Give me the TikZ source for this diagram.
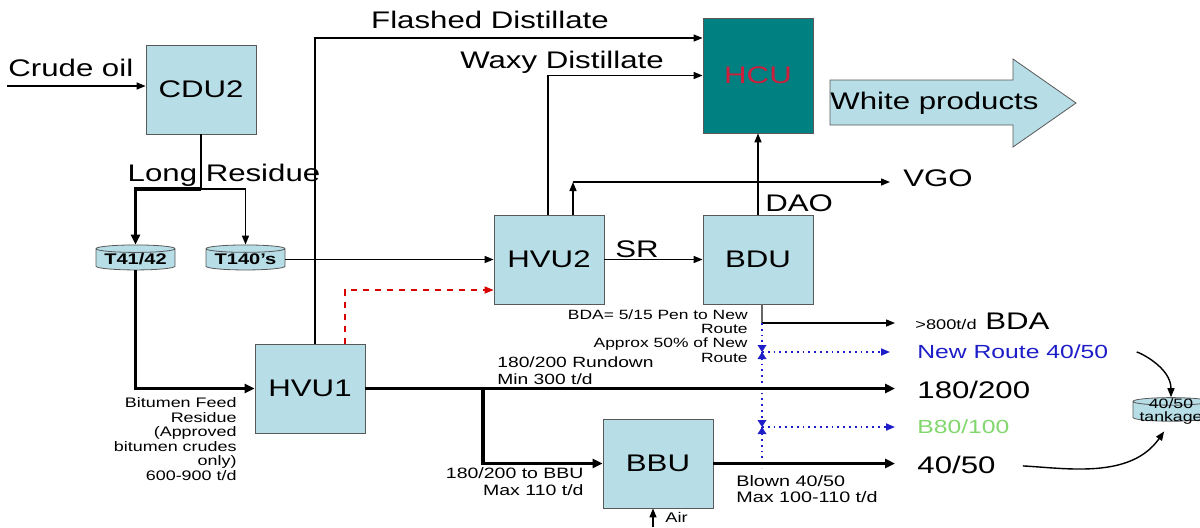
\documentclass[tikz,border=0pt]{standalone}
\usepackage{fontspec}
\setmainfont{Liberation Sans}[FakeStretch=1.3]
\usepackage{tikz}
\usetikzlibrary{arrows.meta,positioning,shapes.geometric,calc}
\definecolor{unitblue}{RGB}{183,221,230}
\definecolor{hcuteal}{RGB}{0,128,128}
\definecolor{hcured}{RGB}{205,30,60}
\definecolor{routeblue}{RGB}{30,30,200}
\definecolor{bgreen}{RGB}{130,215,110}
\newcommand{\fsz}[2]{\fontsize{#1}{#2}\selectfont}

\begin{document}
\begin{tikzpicture}[x=0.5pt,y=-0.5pt,>={Triangle[length=4.5pt,width=3.5pt]},
  unit/.style={draw=black!65,fill=unitblue,minimum width=55pt,minimum height=44.5pt,inner sep=0,font=\fsz{12}{14}},
  tank/.style={cylinder,shape border rotate=90,draw=black!65,fill=unitblue,aspect=0.12,minimum width=39.5pt,minimum height=12.5pt,inner xsep=0,inner ysep=-1pt,font=\bfseries\fsz{7.7}{9}},
  lbl/.style={inner sep=0,font=\fsz{12}{14}},
  note/.style={inner sep=0,font=\fsz{6.9}{7.3},align=right},
  pipe/.style={line width=0.7pt},
  feed/.style={line width=1.6pt,>={Triangle[length=5pt,width=4.5pt]}},
  route/.style={routeblue,dotted,line width=0.9pt}]
  \useasboundingbox (0,0) rectangle (1200,527);
  \node[unit] (cdu2) at (201,89.5) {CDU2};
  \node[unit] (hvu1) at (310,388.5) {HVU1};
  \node[unit] (hvu2) at (549,259.5) {HVU2};
  \node[unit] (bdu) at (758,259.5) {BDU};
  \node[unit] (bbu) at (658,463.5) {BBU};
  \node[unit,fill=hcuteal,text=hcured,minimum height=57.5pt] (hcu) at (758,75.5) {HCU};
  \node[tank] (t41) at (135.5,259.5) {T41/42};
  \node[tank] (t140) at (245.5,259.5) {T140’s};
  \node[tank,font=\fsz{6.8}{6.6},align=center,minimum width=38pt,minimum height=11.5pt,inner ysep=-3.5pt] (t4050) at (1171,411.5) {40/50\\tankage};
  \draw[draw=black!65,fill=unitblue] (830,80) -- (1013,80) -- (1013,59) -- (1076,103) -- (1013,147) -- (1013,125) -- (830,125) -- cycle;
  \node[lbl,anchor=west] (white) at (830,103) {White products};
  \node[lbl,anchor=west] (crude) at (8,68) {Crude oil};
  \node[lbl] (longres) at (224,175) {Long Residue};
  \node[lbl] (flashed) at (490,20) {Flashed Distillate};
  \node[lbl] (waxy) at (562,62) {Waxy Distillate};
  \node[lbl] (sr) at (637,249) {SR};
  \node[lbl,anchor=west] (dao) at (765,203) {DAO};
  \node[lbl,anchor=west] (vgo) at (903,178.5) {VGO};
  \node[lbl,anchor=west] (bda) at (915,321.5) {{\fsz{7}{8}>800t/d} BDA};
  \node[lbl,anchor=west,text=routeblue,font=\fsz{9.5}{11}] (newroute) at (917,352) {New Route 40/50};
  \node[lbl,anchor=west] (p180) at (917,389.5) {180/200};
  \node[lbl,anchor=west,text=bgreen,font=\fsz{9.5}{11}] (b80) at (917,426.5) {B80/100};
  \node[lbl,anchor=west] (p4050) at (917,464.5) {40/50};
  \node[note,anchor=north east] (feednote) at (237,397) {Bitumen Feed\\Residue\\(Approved\\bitumen crudes\\only)\\600-900 t/d};
  \node[note,anchor=north west,align=left,font=\fsz{7.4}{8.5}] (rundown) at (497,356) {180/200 Rundown\\Min 300 t/d};
  \node[note,anchor=north east,font=\fsz{6.7}{7.2}] (bdanote) at (748,309) {BDA= 5/15 Pen to New\\Route\\Approx 50\% of New\\Route};
  \node[note,anchor=north east,font=\fsz{7.5}{8.5}] (tobbu) at (584,467) {180/200 to BBU\\Max 110 t/d};
  \node[note,anchor=north west,align=left,font=\fsz{7.6}{8.2}] (blown) at (736,475) {Blown 40/50\\Max 100-110 t/d};
  \node[note,anchor=west,font=\fsz{7}{8}] (air) at (665,517) {Air};
  \coordinate (crudein) at (7,86);
  \coordinate (lrsplit) at (201,189);
  \coordinate (flash) at (315,38);
  \coordinate (redup) at (345,290);
  \coordinate (wax) at (548,76);
  \coordinate (vgoline) at (573,182);
  \coordinate (bdaout) at (762,323);
  \coordinate (valveA) at (762,352);
  \coordinate (valveB) at (762,427);
  \coordinate (routeend) at (762,468);
  \coordinate (bbuin) at (483,388.5);
  \coordinate (airin) at (653,527);
  \draw[pipe,->] (crudein) -- (crudein -| cdu2.west);
  \draw[line width=1.1pt] (cdu2.south) -- (lrsplit);
  \draw[feed,->] (lrsplit) -| (t41.north);
  \draw[pipe,->] (lrsplit) -| (t140.north);
  \draw[feed,->] (t41.south) |- (hvu1.west);
  \draw[pipe,->] (t140.east) -- (t140.east -| hvu2.west);
  \draw[pipe,->] (flash |- hvu1.north) -- (flash) -- (flash -| hcu.west);
  \draw[pipe,red!85!black,dashed,->] (redup |- hvu1.north) |- (hvu2.west |- redup);
  \draw[pipe,->] (wax |- hvu2.north) |- (hcu.west);
  \draw[pipe,->] (vgoline |- hvu2.north) -- (vgoline);
  \draw[pipe,->,shorten >=6.5pt] (vgoline) -- (vgoline -| vgo.west);
  \draw[pipe,->] (hvu2.east) -- (bdu.west);
  \draw[pipe,->] (bdu.north) -- (hcu.south);
  \draw[pipe,black!60] (bdaout |- bdu.south) -- (bdaout);
  \draw[pipe,->,shorten >=10pt] (bdaout) -- (bdaout -| bda.west);
  \draw[route] (bdaout) -- (routeend);
  \draw[route,->,shorten >=13.5pt] (valveA) -- (valveA -| newroute.west);
  \draw[route,->,shorten >=11pt] (valveB) -- (valveB -| b80.west);
  \foreach \v in {valveA,valveB}
    \fill[routeblue] ($(\v)+(-4.5,-7)$) -- ($(\v)+(4.5,-7)$) -- (\v) -- cycle
      ($(\v)+(-4.5,7)$) -- ($(\v)+(4.5,7)$) -- (\v) -- cycle;
  \draw[feed,->,shorten >=11pt] (hvu1.east) -- (hvu1.east -| p180.west);
  \draw[feed,->] (bbuin) |- (bbu.west);
  \draw[feed,->,shorten >=11pt] (bbu.east) -- (bbu.east -| p4050.west);
  \draw[pipe,->] (airin) -- (airin |- bbu.south);
  \draw[pipe,->,shorten <=14pt] (newroute.east) to[out=0,in=90] (t4050.north);
  \draw[pipe,->,shorten <=13.5pt,shorten >=6pt] (p4050.east) to[out=-3,in=235] (t4050.south);
\end{tikzpicture}
\end{document}
